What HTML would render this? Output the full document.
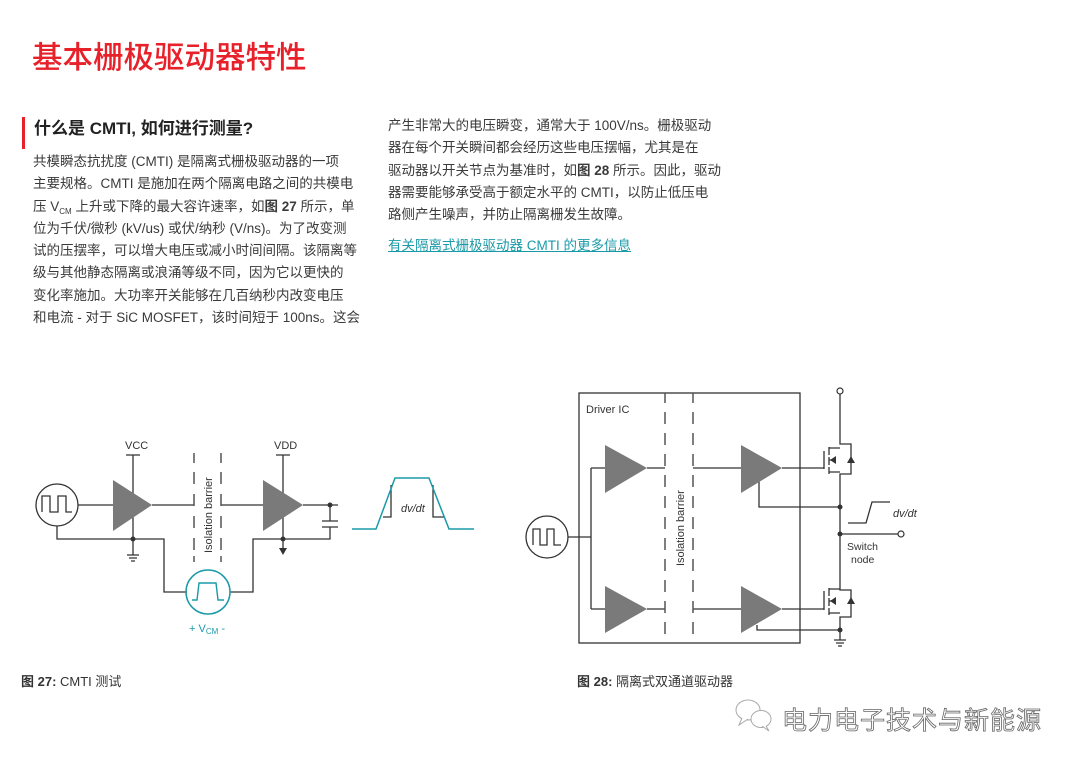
<!DOCTYPE html>
<html><head><meta charset="utf-8">
<style>
body{margin:0;background:#fff;}
#p{position:relative;width:1080px;height:763px;overflow:hidden;font-family:"Liberation Sans","Noto Sans CJK SC",sans-serif;color:#333;}
.t{position:absolute;white-space:nowrap;}
.b{font-size:13.5px;line-height:22.3px;color:#3a3a3a;}
.sub{font-size:8px;vertical-align:-3px;line-height:0;}
</style></head><body><div id="p">
<div class="t" style="left:32px;top:33px;font-size:30.5px;color:#e8202a;font-weight:500;">基本栅极驱动器特性</div>
<div style="position:absolute;left:22px;top:117px;width:3px;height:32px;background:#e8202a;"></div>
<div class="t" style="left:34px;top:114px;font-size:17px;font-weight:bold;color:#222;">什么是 CMTI, 如何进行测量?</div>
<div class="t b" style="left:33px;top:151px;">共模瞬态抗扰度 (CMTI) 是隔离式栅极驱动器的一项<br>主要规格。CMTI 是施加在两个隔离电路之间的共模电<br>压 V<span class="sub">CM</span> 上升或下降的最大容许速率，如<b>图 27</b> 所示，单<br>位为千伏/微秒 (kV/us) 或伏/纳秒 (V/ns)。为了改变测<br>试的压摆率，可以增大电压或减小时间间隔。该隔离等<br>级与其他静态隔离或浪涌等级不同，因为它以更快的<br>变化率施加。大功率开关能够在几百纳秒内改变电压<br>和电流 - 对于 SiC MOSFET，该时间短于 100ns。这会</div>
<div class="t b" style="left:388px;top:115px;">产生非常大的电压瞬变，通常大于 100V/ns。栅极驱动<br>器在每个开关瞬间都会经历这些电压摆幅，尤其是在<br>驱动器以开关节点为基准时，如<b>图 28</b> 所示。因此，驱动<br>器需要能够承受高于额定水平的 CMTI，以防止低压电<br>路侧产生噪声，并防止隔离栅发生故障。</div>
<div class="t b" style="left:388px;top:235px;color:#1a9aa8;text-decoration:underline;">有关隔离式栅极驱动器 CMTI 的更多信息</div>

<svg style="position:absolute;left:0;top:0" width="1080" height="763" font-family="Liberation Sans,sans-serif">
<g stroke="#333" stroke-width="1.3" fill="none">
<circle cx="57" cy="505" r="21"/>
<path d="M42 512V496H50V512H58V496H66V512H72"/>
<path d="M78 505H113M152 505H194M221 505H263M303 505H338"/>
<path d="M133 455V555M126 455H140M283 455V548M276 455H290"/>
<path d="M57 526V539H164V592H187M230 592H253V539H330V527M330 505V521M322 521H338M322 527H338"/>
<path d="M127 555H139M129 558H137M131 561H135"/>
<path d="M194 453V463M194 472V484M194 494V506M194 516V528M194 538V550M194 556V562M221 453V463M221 472V484M221 494V506M221 516V528M221 538V550M221 556V562" stroke="#555" stroke-width="1.5"/>
<path d="M391 485V517H383M433 485V517H445"/>
</g>
<circle cx="133" cy="539" r="2.5" fill="#333"/><circle cx="283" cy="539" r="2.5" fill="#333"/><circle cx="330" cy="505" r="2.5" fill="#333"/>
<path d="M279 548H287L283 555Z" fill="#333"/>
<path d="M113 480L152 505L113 531Z M263 480L303 505L263 531Z" fill="#7a7a7a"/>
<circle cx="208" cy="592" r="22" stroke="#1a9aa8" stroke-width="1.5" fill="none"/>
<path d="M192 600H197L199 583H216L218 600H224" stroke="#1a9aa8" stroke-width="1.4" fill="none"/>
<path d="M352 529H376L395 478H429L449 529H474" stroke="#1a9aa8" stroke-width="1.5" fill="none"/>
<text x="125" y="449" font-size="11" fill="#333">VCC</text>
<text x="274" y="449" font-size="11" fill="#333">VDD</text>
<text x="212" y="553" font-size="11" fill="#333" transform="rotate(-90 212 553)">Isolation barrier</text>
<text x="401" y="512" font-size="11" font-style="italic" fill="#333">dv/dt</text>
<text x="189" y="632" font-size="11" fill="#1a9aa8">+ V<tspan font-size="8" dy="2">CM</tspan><tspan dy="-2"> -</tspan></text>
<g stroke="#333" stroke-width="1.3" fill="none">
<rect x="579" y="393" width="221" height="250"/>
<circle cx="547" cy="537" r="21"/>
<path d="M533 545V529H540V545H547V529H554V545H561"/>
<path d="M568 537H591M591 468V609M591 468H605M591 609H605M647 468H665M647 609H665M693 468H741M693 609H741"/>
<path d="M665 393V403M665 412V424M665 433V445M665 454V466M665 475V487M665 496V508M665 517V529M665 538V550M665 559V571M665 580V592M665 601V613M665 622V634M693 393V403M693 412V424M693 433V445M693 454V466M693 475V487M693 496V508M693 517V529M693 538V550M693 559V571M693 580V592M693 601V613M693 622V634" stroke="#555" stroke-width="1.5"/>
<path d="M782 468H824M824 451V469M782 609H824M824 591V610"/>
<path d="M829 447V455M829 457V465M829 467V474M829 448H840M829 472H840M840 394V444H851V474H840V590H851V617H840V640M829 460H836"/>
<path d="M829 588V596M829 598V606M829 608V615M829 589H840M829 613H840M829 601H836"/>
<path d="M759 480V507H840M757 625V630H840M840 534H898"/>
<path d="M834 640H846M836 643H844M838 646H842"/>
<path d="M848 523H866L872 502H890"/>
</g>
<circle cx="840" cy="391" r="3" fill="#fff" stroke="#333" stroke-width="1.2"/>
<circle cx="901" cy="534" r="3" fill="#fff" stroke="#333" stroke-width="1.2"/>
<circle cx="840" cy="507" r="2.5" fill="#333"/><circle cx="840" cy="534" r="2.5" fill="#333"/><circle cx="840" cy="630" r="2.5" fill="#333"/>
<path d="M830 460L836 456V464Z M847 463L851 456L855 463Z M830 601L836 597V605Z M847 604L851 597L855 604Z" fill="#333"/>
<path d="M605 445L647 468L605 493Z M605 586L647 609L605 633Z M741 445L782 468L741 493Z M741 586L782 609L741 633Z" fill="#7a7a7a"/>
<text x="586" y="413" font-size="11" fill="#333">Driver IC</text>
<text x="684" y="566" font-size="11" fill="#333" transform="rotate(-90 684 566)">Isolation barrier</text>
<text x="893" y="517" font-size="11" font-style="italic" fill="#333">dv/dt</text>
<text x="847" y="550" font-size="10.5" fill="#333">Switch</text>
<text x="851" y="563" font-size="10.5" fill="#333">node</text>
<g stroke="#aaa" stroke-width="1" fill="#fff">
<ellipse cx="748" cy="710" rx="12" ry="10"/><path d="M742 718L739 725L748 719"/>
<ellipse cx="761" cy="719" rx="10" ry="8.5"/><path d="M766 726L769 731L762 726"/>
</g>
</svg>
<div class="t" style="left:21px;top:671px;font-size:13px;color:#333;"><b>图 27:</b> CMTI 测试</div>
<div class="t" style="left:577px;top:671px;font-size:13px;color:#333;"><b>图 28:</b> 隔离式双通道驱动器</div>
<div class="t" style="left:782px;top:701px;font-size:25px;color:#fff;-webkit-text-stroke:0.8px #666;letter-spacing:1px;">电力电子技术与新能源</div>
</div></body></html>
